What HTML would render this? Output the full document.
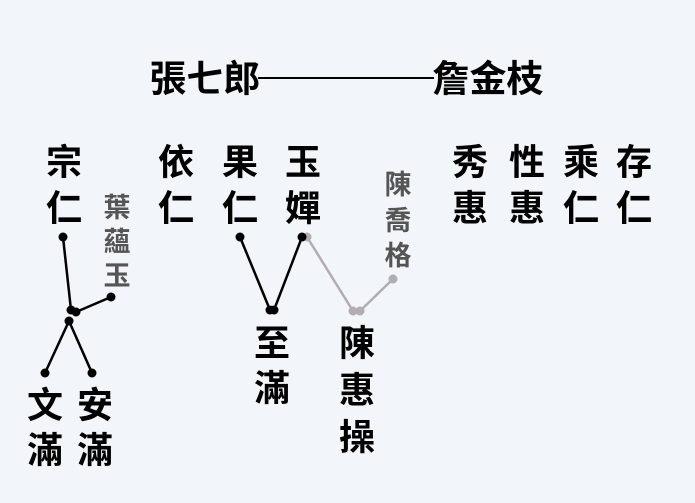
<!DOCTYPE html>
<html><head><meta charset="utf-8"><style>
html,body{margin:0;padding:0;background:#f2f5f9;}
svg{display:block}
text{font-family:"Liberation Sans","Noto Sans CJK TC",sans-serif;font-weight:bold;text-anchor:middle;dominant-baseline:central}
.n{font-size:36px;fill:#000}
.g{font-size:27px;fill:#555;font-weight:bold}
</style></head><body>
<svg width="695" height="503" viewBox="0 0 695 503">
<rect width="695" height="503" fill="#f2f5f9"/>
<text class="n" x="205" y="79" style="font-size:37px">張七郎</text>
<text class="n" x="488" y="79" style="font-size:37px">詹金枝</text>
<line x1="258" y1="78" x2="434" y2="78" stroke="#000" stroke-width="2"/>

<g class="n">
<text class="n" x="64" y="162">宗</text><text class="n" x="64" y="208">仁</text>
<text class="n" x="176" y="162">依</text><text class="n" x="176" y="208">仁</text>
<text class="n" x="240" y="162">果</text><text class="n" x="240" y="208">仁</text>
<text class="n" x="303" y="162">玉</text><text class="n" x="303" y="208">嬋</text>
<text class="n" x="470" y="162">秀</text><text class="n" x="470" y="208">惠</text>
<text class="n" x="527" y="162">性</text><text class="n" x="527" y="208">惠</text>
<text class="n" x="581" y="162">乘</text><text class="n" x="581" y="208">仁</text>
<text class="n" x="634" y="162">存</text><text class="n" x="634" y="208">仁</text>
<text class="n" x="45" y="405">文</text><text class="n" x="45" y="450">滿</text>
<text class="n" x="95" y="405">安</text><text class="n" x="95" y="450">滿</text>
<text class="n" x="272" y="343">至</text><text class="n" x="272" y="388">滿</text>
<text class="n" x="357" y="343">陳</text><text class="n" x="357" y="390">惠</text><text class="n" x="357" y="437">操</text>
</g>
<text class="g" x="117" y="208">葉</text><text class="g" x="117" y="242">蘊</text><text class="g" x="117" y="276">玉</text>
<text class="g" x="398" y="185">陳</text><text class="g" x="398" y="221">喬</text><text class="g" x="398" y="256">格</text>

<g stroke="#000" stroke-width="2.5" fill="none">
<line x1="63" y1="237" x2="71" y2="310"/>
<line x1="76" y1="312" x2="111" y2="297"/>
<line x1="69" y1="321" x2="45" y2="373"/>
<line x1="69" y1="321" x2="92" y2="373"/>
<line x1="240" y1="237" x2="270" y2="310"/>
<line x1="302" y1="237" x2="274" y2="310"/>
</g>
<g stroke="#b3adb3" stroke-width="2.5" fill="none">
<line x1="307" y1="237" x2="353" y2="311"/>
<line x1="360" y1="311" x2="393" y2="279"/>
</g>
<g fill="#b3adb3">
<circle cx="307" cy="237" r="4.5"/><circle cx="353" cy="311" r="4.5"/><circle cx="360" cy="311" r="4.5"/><circle cx="393" cy="279" r="4.5"/>
</g>
<g fill="#000">
<circle cx="63" cy="237" r="4.5"/><circle cx="111" cy="297" r="4.5"/>
<circle cx="71" cy="310" r="4.5"/><circle cx="76" cy="312" r="4.5"/><circle cx="69" cy="321" r="4.5"/>
<circle cx="45" cy="373" r="4.5"/><circle cx="92" cy="373" r="4.5"/>
<circle cx="240" cy="237" r="4.5"/><circle cx="302" cy="237" r="4.5"/>
<circle cx="270" cy="310" r="4.5"/><circle cx="274" cy="310" r="4.5"/>
</g>
</svg>
</body></html>
